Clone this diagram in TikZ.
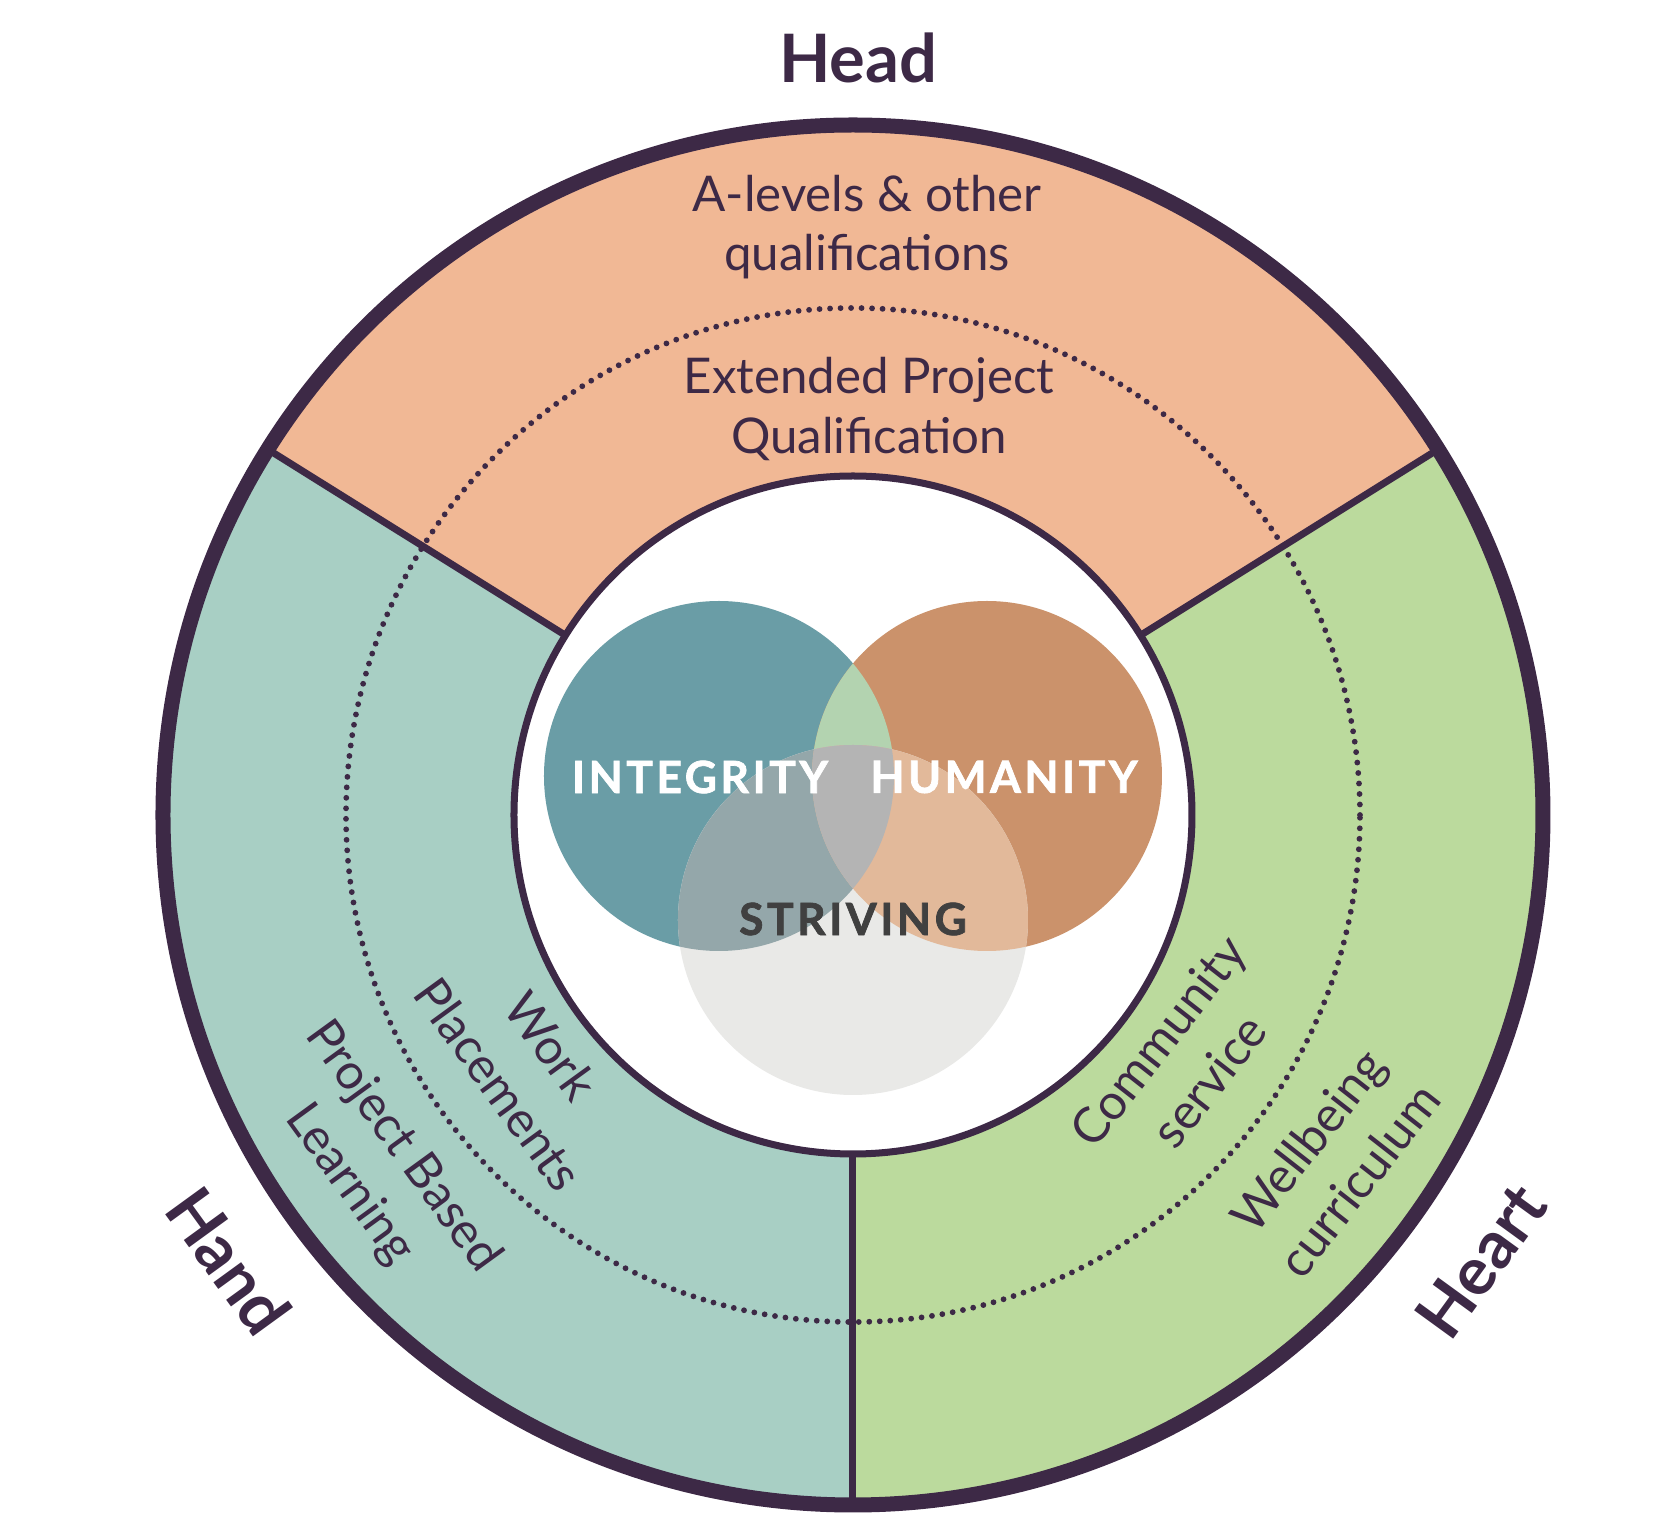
\documentclass[tikz,border=0pt]{standalone}
\usepackage{fontspec}
\setmainfont{Lato}
\newfontfamily\vennfont[LetterSpace=8,BoldFeatures={FakeBold=1.6}]{Lato}
\definecolor{ink}{HTML}{3D2946}
\definecolor{headc}{HTML}{F1B895}
\definecolor{handc}{HTML}{A8CFC4}
\definecolor{heartc}{HTML}{BBDA9D}
\definecolor{integc}{HTML}{6A9DA6}
\definecolor{humc}{HTML}{CB926B}
\definecolor{ihc}{HTML}{B3D3B0}
\definecolor{strc}{HTML}{E9E9E7}
\definecolor{isc}{HTML}{94A7AA}
\definecolor{hsc}{HTML}{E2B99A}
\definecolor{allc}{HTML}{B4B4B4}
\definecolor{strtext}{HTML}{404040}
\tikzset{
  bigtxt/.style={text=ink, font=\fontsize{19}{22}\selectfont\bfseries, inner sep=0pt},
  itemtxt/.style={text=ink, font=\fontsize{14}{17}\selectfont, align=center, inner sep=0pt},
  rottxt/.style={text=ink, font=\fontsize{14}{18.5}\selectfont, align=center, inner sep=0pt},
  venntxt/.style={font=\fontsize{12.6}{14}\selectfont\vennfont\bfseries, inner sep=0pt},
  dotline/.style={ink, line width=0.058cm, dash pattern=on 0pt off 0.105cm, line cap=round},
  divline/.style={ink, line width=0.07cm},
}
\begin{document}
\begin{tikzpicture}[x=0.01cm,y=0.01cm]
\useasboundingbox (-853,-715) rectangle (809,815);
% sectors
\fill[headc] (32:692) arc[start angle=32,end angle=148,radius=692] -- (148:339) arc[start angle=148,end angle=32,radius=339] -- cycle;
\fill[handc] (148:692) arc[start angle=148,end angle=270,radius=692] -- (270:339) arc[start angle=270,end angle=148,radius=339] -- cycle;
\fill[heartc] (270:692) arc[start angle=270,end angle=392,radius=692] -- (32:339) arc[start angle=392,end angle=270,radius=339] -- cycle;
% dotted ring
\draw[dotline] (0,0) circle[radius=507];
% dividers
\draw[divline] (32:339) -- (32:690);
\draw[divline] (148:339) -- (148:690);
\draw[divline] (270:339) -- (270:690);
% inner disc
\draw[ink, line width=0.07cm, fill=white] (0,0) circle[radius=339];
% outer ring
\draw[ink, line width=0.15cm] (0,0) circle[radius=690];
% Venn
\coordinate (ci) at (-134,39);
\coordinate (ch) at (134,39);
\coordinate (cs) at (0,-105);
\fill[integc] (ci) circle[radius=175];
\fill[humc] (ch) circle[radius=175];
\begin{scope}
  \clip (ci) circle[radius=175];
  \fill[ihc] (ch) circle[radius=175];
\end{scope}
\fill[strc] (cs) circle[radius=175];
\begin{scope}
  \clip (cs) circle[radius=175];
  \fill[isc] (ci) circle[radius=175];
  \fill[hsc] (ch) circle[radius=175];
  \clip (ci) circle[radius=175];
  \fill[allc] (ch) circle[radius=175];
\end{scope}
\node[venntxt, text=white] (integrity) at (-153,38) {INTEGRITY};
\node[venntxt, text=white] (humanity) at (151,38) {HUMANITY};
\node[venntxt, text=strtext] (striving) at (0,-104) {STRIVING};
% labels
\node[bigtxt, anchor=base] (head) at (5,732) {Head};
\node[bigtxt, rotate=-54] (hand) at (-624,-446) {Hand};
\node[bigtxt, rotate=54] (heart) at (628,-446) {Heart};
\node[itemtxt] (alevels) at (14,588) {A-levels \& other\\qualifications};
\node[itemtxt] (epq) at (16,406) {Extended Project\\Qualification};
\node[rottxt, rotate=-54] (work) at (-328,-250) {Work\\Placements};
\node[rottxt, rotate=-54] (pbl) at (-477,-351) {Project Based\\Learning};
\node[rottxt, rotate=52] (community) at (330,-246) {Community\\service};
\node[rottxt, rotate=52] (wellbeing) at (480,-345) {Wellbeing\\curriculum};
\end{tikzpicture}
\end{document}
